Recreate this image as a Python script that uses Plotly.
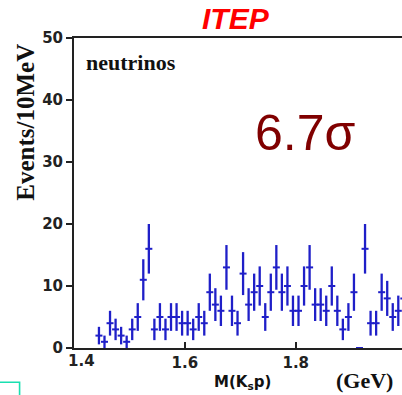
import numpy as np
import plotly.graph_objects as go

# ---- data ----
mass_gev = [1.445, 1.455, 1.465, 1.475, 1.485, 1.495, 1.505, 1.515, 1.525, 1.535,
            1.545, 1.555, 1.565, 1.575, 1.585, 1.595, 1.605, 1.615, 1.625, 1.635,
            1.645, 1.655, 1.665, 1.675, 1.685, 1.695, 1.705, 1.715, 1.725, 1.735,
            1.745, 1.755, 1.765, 1.775, 1.785, 1.795, 1.805, 1.815, 1.825, 1.835,
            1.845, 1.855, 1.865, 1.875, 1.885, 1.895, 1.905, 1.915, 1.925, 1.935,
            1.945, 1.955, 1.965, 1.975, 1.985, 1.995]
events = [2, 1, 4, 3, 2, 1, 3, 5, 11, 16,
          3, 5, 3, 5, 5, 4, 4, 3, 5, 4,
          9, 7, 6, 13, 6, 4, 12, 7, 9, 10,
          5, 9, 13, 9, 10, 6, 6, 10, 13, 7,
          7, 6, 10, 6, 3, 5, 9, 0, 16, 4,
          4, 9, 8, 5, 6, 8]
errors = list(np.sqrt(np.array(events, dtype=float)))

x_tick_vals = [1.4, 1.6, 1.8]
x_tick_text = ["1.4", "1.6", "1.8"]
y_tick_vals = [0, 10, 20, 30, 40, 50]
y_tick_text = ["0", "10", "20", "30", "40", "50"]

# ---- geometry (pixels) ----
W_FIG, H_FIG = 402, 395
L, R, T, B = 73.5, 0, 38.4, 46.6
PW = W_FIG - L - R
PH = H_FIG - T - B
PX_PER_GEV = 555.2


def px(xp):
    return (xp - L) / PW


def py(yp):
    return (H_FIG - B - yp) / PH


BLUE = "#1f1fc8"
AXC = "#222222"

fig = go.Figure()
fig.add_trace(go.Scatter(
    x=mass_gev, y=events,
    mode="markers",
    marker=dict(symbol="line-ew", size=5, line=dict(width=2, color=BLUE), color=BLUE),
    error_y=dict(type="data", array=errors, visible=True, color=BLUE,
                 thickness=2.3, width=0),
    cliponaxis=True,
    showlegend=False,
))

tickfont = dict(family="DejaVu Sans", size=15, color=AXC, weight="bold")

fig.update_xaxes(
    range=[1.4, 1.4 + PW / PX_PER_GEV],
    tickvals=x_tick_vals[1:], ticktext=x_tick_text[1:],
    ticks="inside", ticklen=6, tickwidth=2, tickcolor=AXC,
    showline=True, linecolor=AXC, linewidth=2, mirror=True,
    showgrid=False, zeroline=False,
    tickfont=tickfont,
)
fig.update_yaxes(
    range=[0, 50],
    tickvals=y_tick_vals, ticktext=y_tick_text,
    ticks="outside", ticklen=6, tickwidth=2, tickcolor=AXC,
    showline=True, linecolor=AXC, linewidth=2, mirror=False,
    showgrid=False, zeroline=False,
    tickfont=tickfont,
)

annotations = [
    # first x tick label, shifted right as in the original
    dict(text=x_tick_text[0], x=x_tick_vals[0], xref="x", y=py(361), yref="paper",
         xanchor="center", yanchor="middle", xshift=7, showarrow=False,
         font=tickfont),
    dict(text="<b><i>ITEP</i></b>", x=px(236), y=py(19), xref="paper", yref="paper",
         xanchor="center", yanchor="middle", showarrow=False,
         font=dict(family="Liberation Sans", size=30, color="#ff0000")),
    dict(text="<b>neutrinos</b>", x=px(84), y=py(63), xref="paper", yref="paper",
         xanchor="left", yanchor="middle", showarrow=False,
         font=dict(family="Liberation Serif", size=22, color="#111111")),
    dict(text="6.7σ", x=px(253), y=py(133), xref="paper", yref="paper",
         xanchor="left", yanchor="middle", showarrow=False,
         font=dict(family="Liberation Sans", size=50, color="#800000")),
    dict(text="<b>M(K<sub>s</sub>p)</b>", x=px(242), y=py(383), xref="paper", yref="paper",
         xanchor="center", yanchor="middle", showarrow=False,
         font=dict(family="DejaVu Sans", size=15, color="#111111")),
    dict(text="<b>(GeV)</b>", x=px(364), y=py(381), xref="paper", yref="paper",
         xanchor="center", yanchor="middle", showarrow=False,
         font=dict(family="Liberation Serif", size=22, color="#111111")),
    dict(text="<b>Events/10MeV</b>", x=px(25.5), y=py(123), xref="paper", yref="paper",
         xanchor="center", yanchor="middle", textangle=-90, showarrow=False,
         font=dict(family="Liberation Serif", size=25, color="#111111")),
]

shapes = [
    dict(type="rect", xref="paper", yref="paper",
         x0=px(-8), x1=px(19), y0=py(382.7), y1=py(410),
         line=dict(color="#19e0b0", width=1.6), fillcolor="rgba(0,0,0,0)"),
]

fig.update_layout(
    width=W_FIG, height=H_FIG,
    margin=dict(l=L, r=R, t=T, b=B, pad=0),
    paper_bgcolor="white", plot_bgcolor="white",
    annotations=annotations, shapes=shapes,
    showlegend=False,
)

fig.write_html("out.html")
